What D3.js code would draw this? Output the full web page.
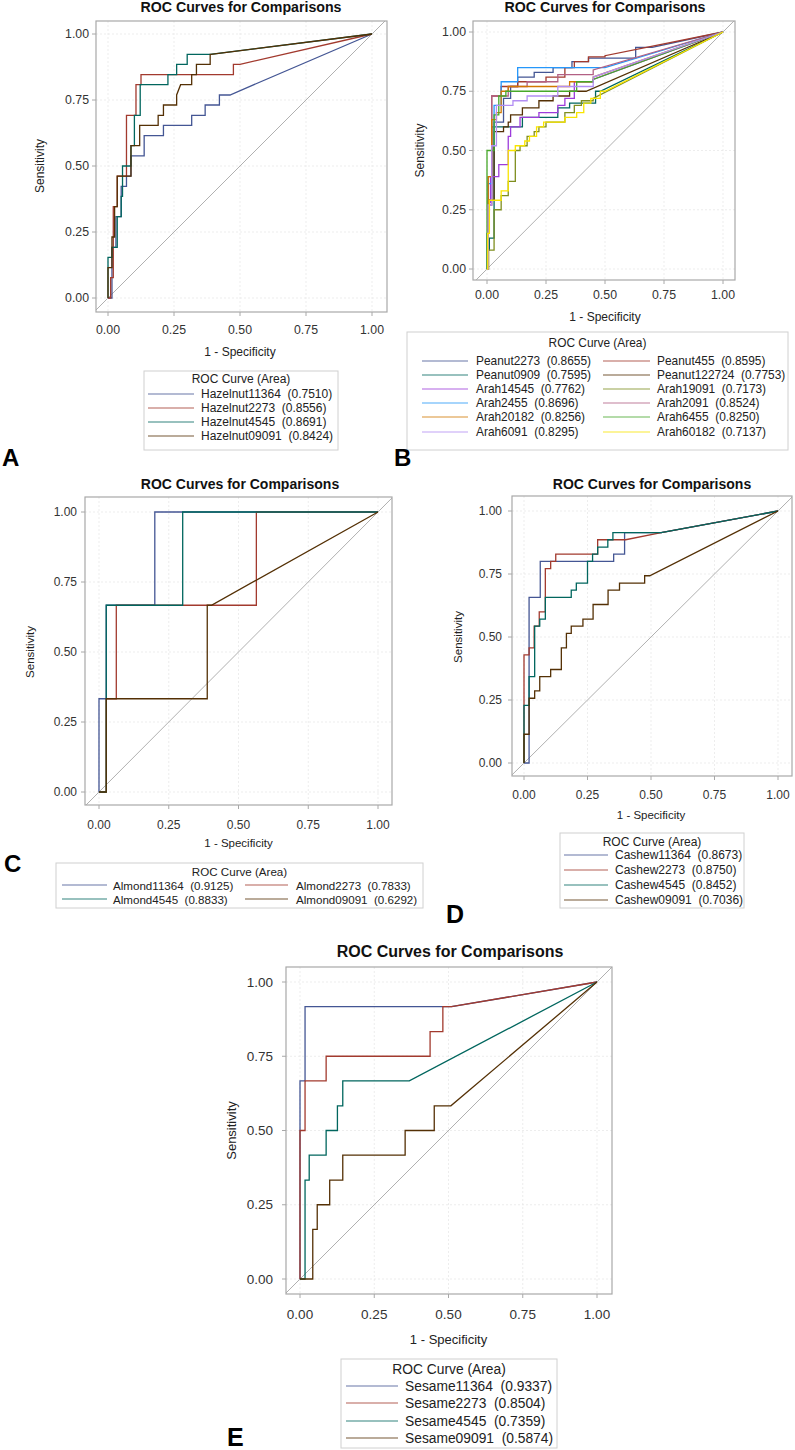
<!DOCTYPE html>
<html><head><meta charset="utf-8">
<script src="https://cdn.jsdelivr.net/npm/d3@7"></script>
<style>body{margin:0;background:#fff} svg{display:block}</style>
</head><body>
<svg id="c" width="795" height="1450"></svg>
<script>
// ---------------- DATA ----------------
const ticks = [0, 0.25, 0.5, 0.75, 1];
const tickLabels = ["0.00", "0.25", "0.50", "0.75", "1.00"];
const titleText = "ROC Curves for Comparisons";
const legendTitle = "ROC Curve (Area)";
const xLabel = "1 - Specificity";
const yLabel = "Sensitivity";
const panelLetters = ["A", "B", "C", "D", "E"];

const sasColors = ["#445694", "#A23A2E", "#01665E", "#543005", "#9D3CDB", "#7F8E1F",
                   "#2597FA", "#B26084", "#D17800", "#47A82A", "#B38EF3", "#F9E500"];

// Panel A: Hazelnut  (steps: [fpr, tpr reached]; third flag = straight segment)
const hazelNames = ["Hazelnut11364", "Hazelnut2273", "Hazelnut4545", "Hazelnut09091"];
const hazelAreas = ["0.7510", "0.8556", "0.8691", "0.8424"];
const hazel11364 = [[0.015,0.192],[0.03,0.308],[0.05,0.423],[0.07,0.462],[0.087,0.538],[0.137,0.615],[0.21,0.654],[0.317,0.692],[0.368,0.731],[0.422,0.769],[0.462,0.769]];
const hazel2273 = [[0.01,0.077],[0.02,0.346],[0.035,0.462],[0.07,0.692],[0.106,0.808],[0.125,0.846],[0.475,0.885],[0.5,0.885]];
const hazel4545 = [[0,0.154],[0.015,0.192],[0.035,0.308],[0.05,0.385],[0.055,0.5],[0.087,0.577],[0.1,0.692],[0.122,0.808],[0.227,0.846],[0.26,0.885],[0.3,0.923],[0.387,0.923]];
const hazel09091 = [[0,0.115],[0.015,0.231],[0.025,0.346],[0.035,0.462],[0.087,0.577],[0.12,0.654],[0.19,0.692],[0.21,0.731],[0.26,0.769],[0.275,0.808,1],[0.317,0.846],[0.335,0.885],[0.387,0.923],[0.39,0.923]];

// Panel B: Peanut / Arah
const peanutNames = ["Peanut2273", "Peanut455", "Peanut0909", "Peanut122724", "Arah14545", "Arah19091",
                     "Arah2455", "Arah2091", "Arah20182", "Arah6455", "Arah6091", "Arah60182"];
const peanutAreas = ["0.8655", "0.8595", "0.7595", "0.7753", "0.7762", "0.7173",
                     "0.8696", "0.8524", "0.8256", "0.8250", "0.8295", "0.7137"];
const peanut2273 = [[0,0.15],[0.005,0.29],[0.02,0.6],[0.03,0.62],[0.07,0.72],[0.1,0.77],[0.13,0.81],[0.2,0.83],[0.28,0.85],[0.36,0.875],[0.43,0.89],[0.63,0.935],[0.7,0.935]];
const peanut455 = [[0.005,0.27],[0.02,0.73],[0.06,0.77],[0.13,0.79],[0.25,0.81],[0.33,0.85],[0.37,0.875],[0.43,0.895],[0.5,0.9]];
const peanut0909 = [[0.005,0.08],[0.01,0.13],[0.03,0.6],[0.15,0.64],[0.3,0.68],[0.35,0.7],[0.46,0.75],[0.48,0.75]];
const peanut122724 = [[0.005,0.15],[0.01,0.29],[0.03,0.58],[0.07,0.6],[0.09,0.62],[0.1,0.65],[0.15,0.68],[0.22,0.71],[0.28,0.73],[0.35,0.75],[0.42,0.75]];
const arah14545 = [[0.005,0.28],[0.015,0.39],[0.05,0.44],[0.09,0.56],[0.1,0.6],[0.14,0.64],[0.22,0.66],[0.3,0.69],[0.33,0.72],[0.37,0.79],[0.45,0.8]];
const arah19091 = [[0.007,0.08],[0.03,0.25],[0.06,0.31],[0.09,0.37],[0.12,0.5],[0.14,0.52],[0.17,0.56],[0.2,0.58],[0.22,0.6],[0.25,0.62],[0.33,0.66],[0.37,0.69],[0.4,0.71],[0.45,0.72]];
const arah2455 = [[0.005,0.36],[0.02,0.52],[0.03,0.69],[0.06,0.79],[0.13,0.85],[0.5,0.85]];
const arah2091 = [[0.005,0.39],[0.02,0.73],[0.09,0.77],[0.17,0.79],[0.3,0.82],[0.45,0.84]];
const arah20182 = [[0.005,0.39],[0.02,0.63],[0.04,0.66],[0.06,0.75],[0.09,0.77],[0.25,0.77],[0.35,0.79],[0.45,0.81]];
const arah6455 = [[0,0.5],[0.03,0.65],[0.05,0.73],[0.08,0.75],[0.37,0.75],[0.38,0.79],[0.45,0.8]];
const arah6091 = [[0.005,0.27],[0.02,0.52],[0.04,0.69],[0.11,0.71],[0.17,0.73],[0.3,0.77],[0.45,0.81]];
const arah60182 = [[0.003,0.15],[0.01,0.29],[0.06,0.33],[0.09,0.5],[0.12,0.52],[0.16,0.54],[0.18,0.56],[0.21,0.6],[0.24,0.62],[0.33,0.64],[0.38,0.66],[0.41,0.7],[0.44,0.72],[0.48,0.75],[0.5,0.75]];

// Panel C: Almond
const almondNames = ["Almond11364", "Almond2273", "Almond4545", "Almond09091"];
const almondAreas = ["0.9125", "0.7833", "0.8833", "0.6292"];
const almond11364 = [[0,0.333],[0.026,0.667],[0.2,1],[1,1]];
const almond2273 = [[0.026,0.333],[0.062,0.667],[0.564,1],[1,1]];
const almond4545 = [[0.026,0.667],[0.3,1],[1,1]];
const almond09091 = [[0.026,0.333],[0.388,0.667],[0.403,0.667]];

// Panel D: Cashew
const cashewNames = ["Cashew11364", "Cashew2273", "Cashew4545", "Cashew09091"];
const cashewAreas = ["0.8673", "0.8750", "0.8452", "0.7036"];
const cashew11364 = [[0.02,0.657],[0.064,0.8],[0.353,0.829],[0.396,0.914],[0.54,0.914]];
const cashew2273 = [[0,0.429],[0.02,0.457],[0.04,0.543],[0.06,0.6],[0.084,0.771],[0.105,0.8],[0.125,0.829],[0.29,0.886],[0.4,0.886],[0.54,0.914,1]];
const cashew4545 = [[0,0.229],[0.02,0.343],[0.042,0.543],[0.062,0.571],[0.084,0.657],[0.186,0.686],[0.206,0.714],[0.25,0.8],[0.27,0.829],[0.29,0.857],[0.33,0.886],[0.35,0.914],[0.54,0.914]];
const cashew09091 = [[0,0.114],[0.02,0.257],[0.042,0.286],[0.062,0.343],[0.105,0.371],[0.147,0.457],[0.167,0.514],[0.186,0.543],[0.232,0.571],[0.272,0.629],[0.331,0.686],[0.376,0.714],[0.475,0.743],[0.495,0.743]];

// Panel E: Sesame
const sesameNames = ["Sesame11364", "Sesame2273", "Sesame4545", "Sesame09091"];
const sesameAreas = ["0.9337", "0.8504", "0.7359", "0.5874"];
const sesame11364 = [[0,0.667],[0.017,0.917],[0.51,0.917]];
const sesame2273 = [[0,0.5],[0.017,0.667],[0.088,0.75],[0.438,0.833],[0.481,0.917],[0.51,0.917]];
const sesame4545 = [[0.017,0.333],[0.031,0.417],[0.088,0.5],[0.126,0.583],[0.144,0.667],[0.368,0.667]];
const sesame09091 = [[0.043,0.167],[0.058,0.25],[0.1,0.333],[0.144,0.417],[0.354,0.5],[0.452,0.583],[0.508,0.583]];

// ---------------- LAYOUT ----------------
const FONT = "'Liberation Sans', Arial, Helvetica, sans-serif";
const panels = [
  { names: hazelNames, areas: hazelAreas, curves: [hazel11364, hazel2273, hazel4545, hazel09091],
    frame: [96, 21, 387, 312], px: [108, 372], py: [298, 34], titleX: 241, titleY: 12, titleSize: 14.2,
    tickSize: 12.3, xTickY: 330, yTickRight: 89, labSize: 12, xLabY: 352, yLabX: 40,
    leg: { box: [144, 371, 338, 450], titleY: 379, rows: [394, 408, 422, 436], cols: [[148, 194, 201]], size: 12 },
    letter: [2, 466, 24] },
  { names: peanutNames, areas: peanutAreas,
    curves: [peanut2273, peanut455, peanut0909, peanut122724, arah14545, arah19091, arah2455, arah2091, arah20182, arah6455, arah6091, arah60182],
    frame: [473, 21, 735, 280], px: [487, 723], py: [269, 32], titleX: 605, titleY: 12, titleSize: 14.2,
    tickSize: 12.3, xTickY: 295, yTickRight: 466, labSize: 12, xLabY: 317, yLabX: 420,
    leg: { box: [407, 332, 788, 450], titleY: 343, rows: [361, 375, 389, 403, 417, 432], cols: [[422, 468, 476], [603, 650, 657]], size: 11.9 },
    letter: [394, 466, 24] },
  { names: almondNames, areas: almondAreas, curves: [almond11364, almond2273, almond4545, almond09091],
    frame: [85, 497, 392, 805], px: [99, 378], py: [792, 512], titleX: 240, titleY: 489, titleSize: 14,
    tickSize: 12, xTickY: 825, yTickRight: 77, labSize: 11.5, xLabY: 843, yLabX: 30,
    leg: { box: [56, 863, 423, 908], titleY: 871, rows: [885, 899], cols: [[62, 107, 113], [245, 288, 296]], size: 11.6 },
    letter: [4, 872, 24] },
  { names: cashewNames, areas: cashewAreas, curves: [cashew11364, cashew2273, cashew4545, cashew09091],
    frame: [512, 496, 792, 776], px: [524, 778], py: [763, 511], titleX: 652, titleY: 489, titleSize: 14,
    tickSize: 12, xTickY: 795, yTickRight: 502, labSize: 11.5, xLabY: 815, yLabX: 458,
    leg: { box: [560, 833, 744, 908], titleY: 842, rows: [855, 870, 885, 900], cols: [[564, 608, 615]], size: 12 },
    letter: [446, 923, 25] },
  { names: sesameNames, areas: sesameAreas, curves: [sesame11364, sesame2273, sesame4545, sesame09091],
    frame: [286, 967, 612, 1294], px: [300, 597], py: [1279, 982], titleX: 450, titleY: 957, titleSize: 16,
    tickSize: 13.5, xTickY: 1314, yTickRight: 273, labSize: 13, xLabY: 1339, yLabX: 231,
    leg: { box: [341, 1359, 557, 1448], titleY: 1369, rows: [1386, 1403, 1421, 1438], cols: [[346, 398, 405]], size: 13.8 },
    letter: [227, 1446, 25] }
];

function stairs(steps) {
  const pts = [[0, 0]];
  let py = 0;
  for (const s of steps) {
    if (s[2]) pts.push([s[0], s[1]]);
    else { pts.push([s[0], py]); pts.push([s[0], s[1]]); }
    py = s[1];
  }
  pts.push([1, 1]);
  return pts;
}

const svg = d3.select("#c").style("font-family", FONT);

panels.forEach((p, pi) => {
  const [fl, ft, fr, fb] = p.frame;
  const x = d3.scaleLinear().domain([0, 1]).range(p.px);
  const y = d3.scaleLinear().domain([0, 1]).range(p.py);
  const g = svg.append("g");

  const cid = "clip" + pi;
  svg.append("clipPath").attr("id", cid).append("rect")
    .attr("x", fl).attr("y", ft).attr("width", fr - fl).attr("height", fb - ft);

  // title
  g.append("text").attr("x", p.titleX).attr("y", p.titleY).attr("text-anchor", "middle")
    .attr("font-weight", "bold").attr("font-size", p.titleSize).attr("fill", "#111").text(titleText);

  // grid
  const grid = g.append("g").attr("stroke", "#e8e8e8").attr("stroke-width", 0.8).attr("stroke-dasharray", "2,2");
  ticks.forEach(t => {
    grid.append("line").attr("x1", x(t)).attr("x2", x(t)).attr("y1", ft).attr("y2", fb);
    grid.append("line").attr("y1", y(t)).attr("y2", y(t)).attr("x1", fl).attr("x2", fr);
  });

  // diagonal reference
  const lo = Math.min(x.invert(fl), y.invert(fb)), hi = Math.max(x.invert(fr), y.invert(ft));
  g.append("line").attr("clip-path", `url(#${cid})`)
    .attr("x1", x(lo)).attr("y1", y(lo)).attr("x2", x(hi)).attr("y2", y(hi))
    .attr("stroke", "#b0b0b0").attr("stroke-width", 1);

  // curves
  const line = d3.line().x(d => x(d[0])).y(d => y(d[1]));
  p.curves.forEach((c, i) => {
    g.append("path").attr("d", line(stairs(c))).attr("fill", "none")
      .attr("stroke", sasColors[i]).attr("stroke-width", 1.3)
      .attr("clip-path", `url(#${cid})`);
  });

  // frame
  g.append("rect").attr("x", fl).attr("y", ft).attr("width", fr - fl).attr("height", fb - ft)
    .attr("fill", "none").attr("stroke", "#a8a8a8").attr("stroke-width", 1.2);

  // ticks
  ticks.forEach((t, i) => {
    g.append("line").attr("x1", x(t)).attr("x2", x(t)).attr("y1", fb).attr("y2", fb + 4).attr("stroke", "#a8a8a8");
    g.append("line").attr("y1", y(t)).attr("y2", y(t)).attr("x1", fl).attr("x2", fl - 4).attr("stroke", "#a8a8a8");
    g.append("text").attr("x", x(t)).attr("y", p.xTickY).attr("text-anchor", "middle").attr("dominant-baseline", "central")
      .attr("font-size", p.tickSize).attr("fill", "#333").text(tickLabels[i]);
    g.append("text").attr("x", p.yTickRight).attr("y", y(t)).attr("text-anchor", "end").attr("dominant-baseline", "central")
      .attr("font-size", p.tickSize).attr("fill", "#333").text(tickLabels[i]);
  });

  // axis labels
  g.append("text").attr("x", (p.px[0] + p.px[1]) / 2).attr("y", p.xLabY).attr("text-anchor", "middle")
    .attr("dominant-baseline", "central").attr("font-size", p.labSize).attr("fill", "#222").text(xLabel);
  const ym = (p.py[0] + p.py[1]) / 2;
  g.append("text").attr("transform", `translate(${p.yLabX},${ym}) rotate(-90)`).attr("text-anchor", "middle")
    .attr("dominant-baseline", "central").attr("font-size", p.labSize).attr("fill", "#222").text(yLabel);

  // legend
  const L = p.leg;
  const lg = g.append("g");
  lg.append("rect").attr("x", L.box[0]).attr("y", L.box[1]).attr("width", L.box[2] - L.box[0]).attr("height", L.box[3] - L.box[1])
    .attr("fill", "#fff").attr("stroke", "#d0d0d0").attr("stroke-width", 1);
  lg.append("text").attr("x", (L.box[0] + L.box[2]) / 2).attr("y", L.titleY).attr("text-anchor", "middle")
    .attr("dominant-baseline", "central").attr("font-size", L.size).attr("fill", "#222").text(legendTitle);
  const nc = L.cols.length;
  p.names.forEach((nm, i) => {
    const col = L.cols[i % nc], ry = L.rows[Math.floor(i / nc)];
    lg.append("line").attr("x1", col[0]).attr("x2", col[1]).attr("y1", ry).attr("y2", ry)
      .attr("stroke", sasColors[i]).attr("stroke-width", 1.2).attr("opacity", 0.8);
    lg.append("text").attr("x", col[2]).attr("y", ry).attr("dominant-baseline", "central")
      .attr("font-size", L.size).attr("fill", "#222").style("white-space", "pre")
      .text(nm + "\u00a0\u00a0(" + p.areas[i] + ")");
  });

  // panel letter
  g.append("text").attr("x", p.letter[0]).attr("y", p.letter[1]).attr("font-size", p.letter[2])
    .attr("font-weight", "bold").attr("fill", "#000").text(panelLetters[pi]);
});
</script>
</body></html>
